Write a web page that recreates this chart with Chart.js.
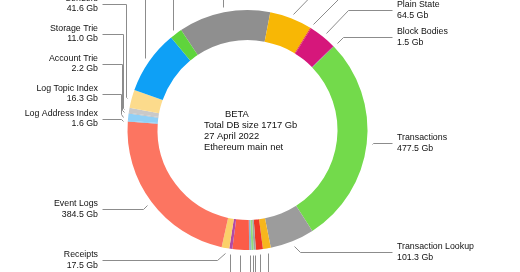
<!DOCTYPE html>
<html><head><meta charset="utf-8">
<script src="https://cdn.jsdelivr.net/npm/chart.js@4/dist/chart.umd.min.js"></script>
<style>html,body{margin:0;padding:0;background:#fff;}canvas{display:block;}</style>
</head><body>
<canvas id="c" width="520" height="272"></canvas>
<script>
// ---- data (clockwise order) ----
const categories = [
  'Storage Changes', 'Account Changes', 'Code', 'Plain State', 'Block Bodies',
  'Transactions', 'Transaction Lookup', 'Call From Index', 'Call To Index',
  'Headers', 'Hashed Accounts', 'Hashed Storage', 'Call Traces', 'Contract Code',
  'Receipts', 'Event Logs', 'Log Address Index', 'Log Topic Index', 'Account Trie',
  'Storage Trie', 'Senders', 'Storage History', 'Account History'
];
const sizesGb = [
  210, 97, 2, 64.5, 1.5,
  477.5, 101.3, 18, 16,
  5, 5, 5, 38, 7,
  17.5, 384.5, 1.6, 16.3, 2.2,
  11.0, 41.6, 146, 28
];
const sliceColors = [
  '#8f8f8f', '#f8b705', '#e8332a', '#d6177b', '#9a2a9a',
  '#73da4b', '#9c9c9c', '#f7b61c', '#ef3626',
  '#a3a3a3', '#93d977', '#93b6cf', '#fb5c48', '#b24aa6',
  '#fbd06a', '#fc7561', '#7fc6f0', '#8fd0f7', '#b8b8b8',
  '#c9c9c9', '#fcdb8c', '#0ea0f6', '#5fd43c'
];
const centerLines = ['BETA', 'Total DB size 1717 Gb', '27 April 2022', 'Ethereum main net'];

// ---- label layout (annotation placement, not data) ----
const LABEL_LAYOUT = [
  {mode:'up'}, {mode:'diag'}, {mode:'diag'}, {mode:'R', y:10}, {mode:'R', y:37},
  {mode:'R', y:143}, {mode:'R', y:252}, {mode:'down'}, {mode:'down'},
  {mode:'down'}, {mode:'down'}, {mode:'down'}, {mode:'down'}, {mode:'down'},
  {mode:'L', y:260}, {mode:'L', y:209}, {mode:'L', y:118.5}, {mode:'LV', y:93.5, vx:120.5}, {mode:'LV', y:63.5, vx:121.5},
  {mode:'LV', y:33.5, vx:122.5}, {mode:'LV', y:3.5, vx:126}, {mode:'up'}, {mode:'up'}
];
const LEFT_TEXT_X = 98, LEFT_LINE_X = 102, RIGHT_TEXT_X = 397, RIGHT_LINE_X = 392;
const FONT = '"Liberation Sans", Arial, Helvetica, sans-serif';

const leaderPlugin = {
  id: 'leaders',
  afterDatasetsDraw(chart) {
    const ctx = chart.ctx;
    const meta = chart.getDatasetMeta(0);
    ctx.save();
    ctx.strokeStyle = '#8c8c8c';
    ctx.lineWidth = 1;
    ctx.fillStyle = '#111';
    ctx.font = '8.8px ' + FONT;
    ctx.textBaseline = 'middle';
    meta.data.forEach((arc, i) => {
      const L = LABEL_LAYOUT[i];
      if (!L) return;
      const p = arc.getProps(['x','y','startAngle','endAngle','outerRadius'], true);
      const a = (p.startAngle + p.endAngle) / 2;
      const r = p.outerRadius + 5;
      const px = p.x + r * Math.cos(a), py = p.y + r * Math.sin(a);
      const name = categories[i], val = sizesGb[i].toFixed(1) + ' Gb';
      let pts = [], tx = 0, ty = 0, align = 'left';
      if (L.mode === 'R') {
        const ex = px + Math.abs(py - L.y);
        pts = [[px, py], [ex, L.y], [RIGHT_LINE_X, L.y]];
        tx = RIGHT_TEXT_X; ty = L.y; align = 'left';
      } else if (L.mode === 'L') {
        const ex = px - Math.abs(py - L.y);
        pts = [[px, py], [ex, L.y], [LEFT_LINE_X, L.y]];
        tx = LEFT_TEXT_X; ty = L.y; align = 'right';
      } else if (L.mode === 'LV') {
        const d = Math.abs(px - L.vx);
        pts = [[px, py], [L.vx, py - d], [L.vx, L.y], [LEFT_LINE_X, L.y]];
        tx = LEFT_TEXT_X; ty = L.y; align = 'right';
      } else if (L.mode === 'up') {
        pts = [[px, py], [px, -20]];
        tx = px; ty = -40; align = 'center';
      } else if (L.mode === 'diag') {
        pts = [[px, py], [px + py + 20, -20]];
        tx = px + py + 20; ty = -40; align = 'center';
      } else if (L.mode === 'down') {
        pts = [[px, py], [px, 300]];
        tx = px; ty = 320; align = 'center';
      }
      ctx.beginPath();
      pts.forEach((q, k) => {
        const x = Math.round(q[0]) + 0.5, y = Math.round(q[1]) + 0.5;
        if (k === 0) ctx.moveTo(x, y); else ctx.lineTo(x, y);
      });
      ctx.stroke();
      ctx.textAlign = align;
      ctx.fillText(name, tx, ty - 5);
      ctx.fillText(val, tx, ty + 5.5);
    });
    ctx.restore();
  }
};

const centerPlugin = {
  id: 'centerText',
  afterDatasetsDraw(chart) {
    const ctx = chart.ctx;
    const arc = chart.getDatasetMeta(0).data[0];
    const cx = arc.x, cy = arc.y;
    ctx.save();
    ctx.fillStyle = '#111';
    ctx.font = '9.4px ' + FONT;
    ctx.textBaseline = 'middle';
    ctx.textAlign = 'left';
    const offs = [[-22.5, -16], [-43.5, -4.5], [-43.5, 6.5], [-43.5, 17.5]];
    centerLines.forEach((t, k) => ctx.fillText(t, cx + offs[k][0], cy + offs[k][1]));
    ctx.restore();
  }
};

new Chart(document.getElementById('c'), {
  type: 'doughnut',
  data: {
    labels: categories,
    datasets: [{ data: sizesGb, backgroundColor: sliceColors, borderWidth: 0 }]
  },
  options: {
    responsive: false,
    devicePixelRatio: 1,
    animation: false,
    cutout: '75%',
    rotation: -33.6,
    layout: { padding: { left: 127.5, right: 152.5, top: 10, bottom: 22 } },
    plugins: { legend: { display: false }, tooltip: { enabled: false } }
  },
  plugins: [leaderPlugin, centerPlugin]
});
</script>
</body></html>
